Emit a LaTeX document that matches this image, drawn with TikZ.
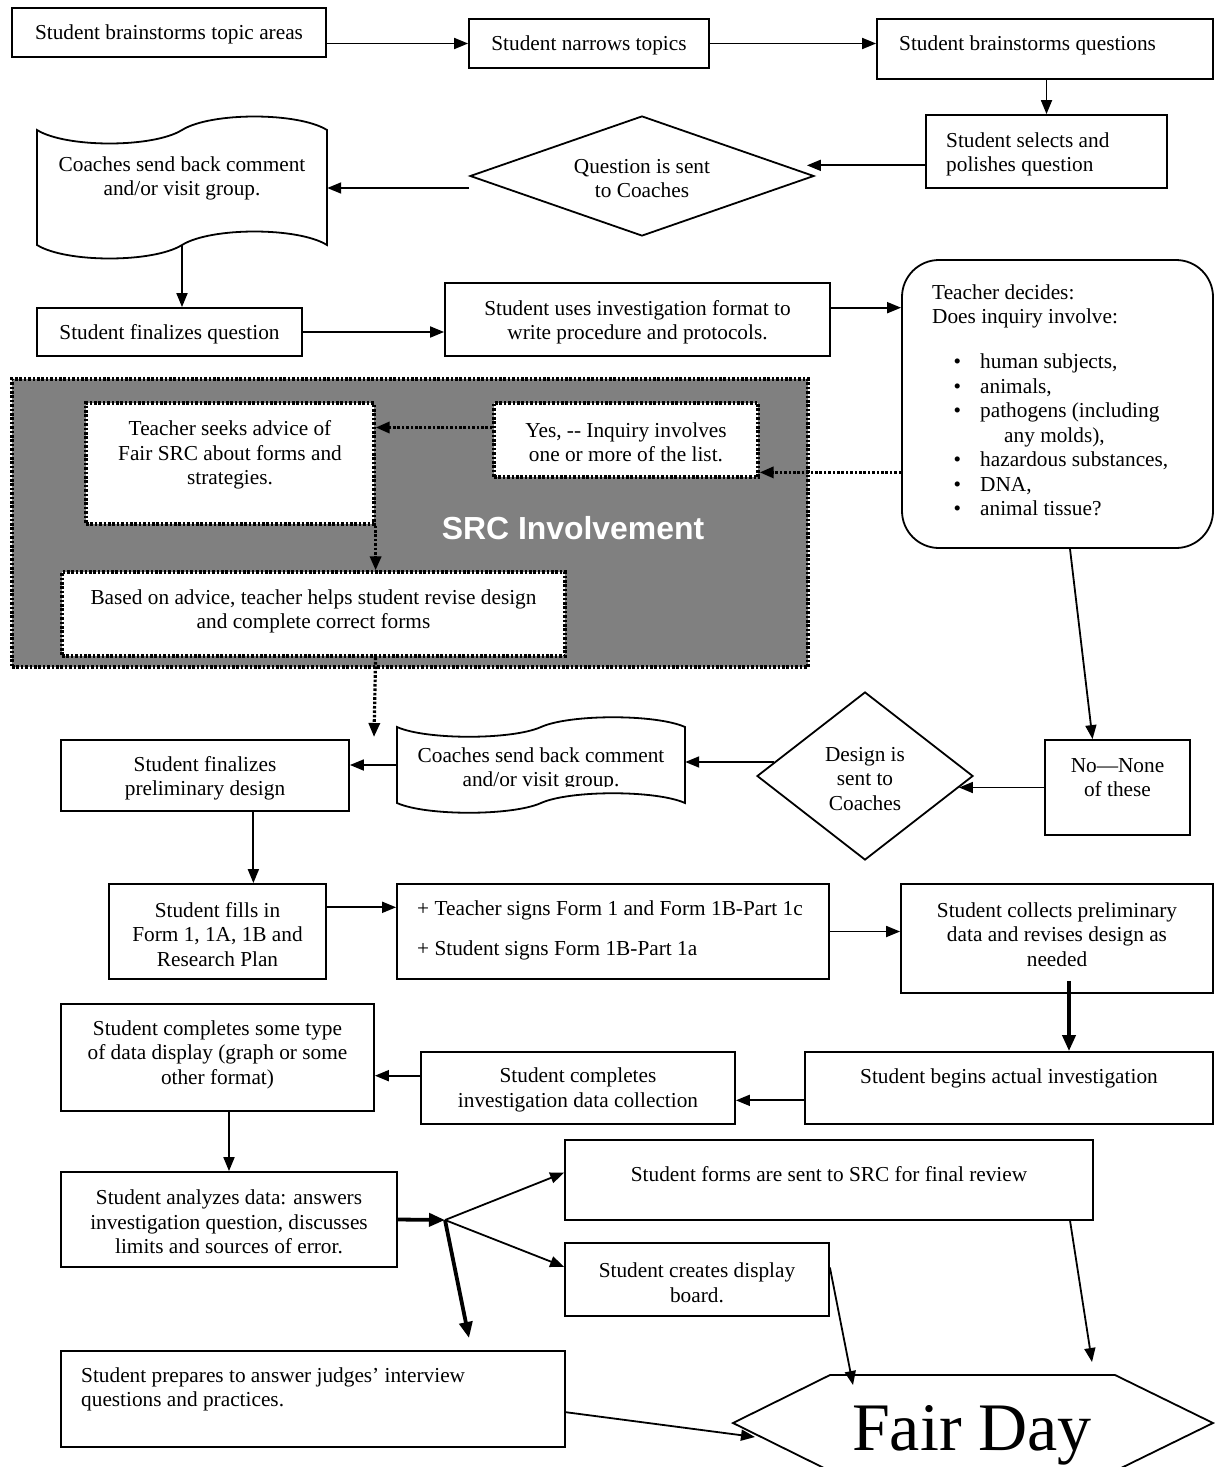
\documentclass[tikz,border=0pt]{standalone}
\usepackage{fontspec}
\setmainfont{Liberation Serif}
\newfontfamily\srcfont{Liberation Sans}
\usetikzlibrary{arrows.meta,shapes.geometric,calc}
\definecolor{srcgray}{HTML}{808080}
\newcommand\fs{\fontsize{21.3}{24.5}\selectfont}
\begin{document}
\begin{tikzpicture}[x=1pt,y=-1pt,
  box/.style={draw, line width=1.8pt, inner sep=0pt, rectangle},
  txt/.style={font=\fs, align=center, inner sep=0pt, yshift=-2pt},
  arr/.style={line width=1.8pt, -{Triangle[length=14pt,width=11pt]}},
  tarr/.style={line width=3.8pt, -{Triangle[length=16pt,width=13pt]}},
  dotln/.style={line width=3.2pt, dash pattern=on 2.6pt off 1.8pt},
  darr/.style={dotln, -{Triangle[length=14pt,width=11pt]}},
  dbox/.style={rectangle, fill=white, draw, dotln, inner sep=0pt},
  ghost/.style={rectangle, inner sep=0pt},
  dia/.style={diamond, draw, line width=1.8pt, inner sep=0pt},
]
\useasboundingbox (0,0) rectangle (1215,1467);
\clip (0,0) rectangle (1215,1467);

% ---------- SRC region ----------
\node[rectangle, fill=srcgray, draw=black, dotln, minimum width=796pt, minimum height=288pt, inner sep=0pt] (SRC) at (410,523) {};
\node[font=\srcfont\bfseries\fontsize{31.9}{38}\selectfont, text=white, inner sep=0pt] (SRCl) at (573,528) {SRC Involvement};
\node[dbox, minimum width=288pt, minimum height=121pt] (H) at (230,463.5) {};
\node[txt] (Ht) at (230,453) {Teacher seeks advice of\\Fair SRC about forms and\\strategies.};
\node[dbox, minimum width=264pt, minimum height=74pt] (I) at (626,440) {};
\node[txt] (It) at (626,440.5) {Yes, -{}- Inquiry involves\\one or more of the list.};
\node[dbox, minimum width=503pt, minimum height=84pt] (J) at (313.5,614) {};
\node[txt] (Jt) at (313.5,609.5) {Based on advice, teacher helps student revise design\\and complete correct forms};

% ---------- top rows ----------
\node[box, minimum width=314pt, minimum height=49pt] (A) at (169,32.5) {};
\node[txt] (At) at (169,32.5) {Student brainstorms topic areas};
\node[box, minimum width=240pt, minimum height=49pt] (B) at (589,43.5) {};
\node[txt] (Bt) at (589,43.5) {Student narrows topics};
\node[box, minimum width=336pt, minimum height=60pt] (C) at (1045,49) {};
\node[txt, anchor=west] (Ct) at (899,43) {Student brainstorms questions};
\node[box, minimum width=241pt, minimum height=73pt] (D) at (1046.5,151.5) {};
\node[txt, align=left, anchor=west] (Dt) at (946,152.5) {Student selects and\\polishes question};
\node[dia, minimum width=344pt, minimum height=120pt] (DQ) at (642,176) {};
\node[txt] (DQt) at (642,176.5) {Question is sent\\to Coaches};

% document shape 1
\node[ghost, minimum width=290pt, minimum height=144pt] (d1) at (182,188) {};
\draw[line width=1.8pt] (37,130) .. controls (66,148) and (153,148) .. (182,130)
  .. controls (211,112) and (298,112) .. (327,130) -- (327,245)
  .. controls (298,227) and (211,227) .. (182,245)
  .. controls (153,263) and (66,263) .. (37,245) -- cycle;
\node[txt] (d1t) at (182,176.5) {Coaches send back comment\\and/or visit group.};

\node[box, minimum width=265pt, minimum height=48pt] (E) at (169.5,332) {};
\node[txt] (Et) at (169.5,332) {Student finalizes question};
\node[box, minimum width=385pt, minimum height=73pt] (F) at (637.5,319.5) {};
\node[txt] (Ft) at (637.5,320.5) {Student uses investigation format to\\write procedure and protocols.};

% teacher decides
\node[box, rounded corners=37pt, minimum width=311pt, minimum height=288pt] (G) at (1057.5,404) {};
\node[txt, align=left, anchor=west] (Gt) at (932,304.5) {Teacher decides:\\Does inquiry involve:};
\node[txt, align=left, anchor=west] (Gl) at (953.3,433) {%
\makebox[26.7pt][l]{\textbullet}human subjects,\\
\makebox[26.7pt][l]{\textbullet}animals,\\
\makebox[26.7pt][l]{\textbullet}pathogens (including\\
\hspace*{50.7pt}any molds),\\
\makebox[26.7pt][l]{\textbullet}hazardous substances,\\
\makebox[26.7pt][l]{\textbullet}DNA,\\
\makebox[26.7pt][l]{\textbullet}animal tissue?};

% ---------- design row ----------
\node[box, minimum width=288pt, minimum height=71pt] (K) at (205,775.5) {};
\node[txt] (Kt) at (205,776.5) {Student finalizes\\preliminary design};
\node[ghost, minimum width=288pt, minimum height=95pt] (d2) at (541,765) {};
\draw[line width=1.8pt] (397,727) .. controls (426,740) and (512,740) .. (541,727)
  .. controls (570,714) and (656,714) .. (685,727) -- (685,803)
  .. controls (656,790) and (570,790) .. (541,803)
  .. controls (512,816) and (426,816) .. (397,803) -- cycle;
\begin{scope}
\clip (397,700) rectangle (685,786);
\node[txt] (d2t) at (541,767.5) {Coaches send back comment\\and/or visit group.};
\end{scope}
\node[dia, minimum width=216pt, minimum height=168pt] (DD) at (865,776) {};
\node[txt] (DDt) at (865,777) {Design is\\sent to\\Coaches};
\node[box, minimum width=145pt, minimum height=95pt] (N) at (1117.5,787.5) {};
\node[txt] (Nt) at (1117.5,775.5) {No—None\\of these};

% ---------- forms row ----------
\node[box, minimum width=217pt, minimum height=95pt] (O) at (217.5,931.5) {};
\node[txt] (Ot) at (217.5,932.5) {Student fills in\\Form 1, 1A, 1B and\\Research Plan};
\node[box, minimum width=432pt, minimum height=95pt] (P) at (613,931.5) {};
\node[txt, align=left, anchor=west] (Pt) at (417,928) {+ Teacher signs Form 1 and Form 1B-Part 1c\\[15.5pt]+ Student signs Form 1B-Part 1a};
\node[box, minimum width=312pt, minimum height=109pt] (Q) at (1057,938.5) {};
\node[txt] (Qt) at (1057,932.5) {Student collects preliminary\\data and revises design as\\needed};

% ---------- investigation row ----------
\node[box, minimum width=408pt, minimum height=72pt] (R) at (1009,1088) {};
\node[txt] (Rt) at (1009,1076) {Student begins actual investigation};
\node[box, minimum width=314pt, minimum height=72pt] (S) at (578,1088) {};
\node[txt] (St) at (578,1088) {Student completes\\investigation data collection};
\node[box, minimum width=313pt, minimum height=107pt] (T) at (217.5,1057.5) {};
\node[txt] (Tt) at (217.5,1052.5) {Student completes some type\\of data display (graph or some\\other format)};

% ---------- analysis ----------
\node[box, minimum width=336pt, minimum height=95pt] (U) at (229,1219.5) {};
\node[txt] (Ut) at (229,1220) {Student analyzes data: answers\\investigation question, discusses\\limits and sources of error.};
\node[box, minimum width=528pt, minimum height=80pt] (V) at (829,1180) {};
\node[txt] (Vt) at (829,1172) {Student forms are sent to SRC for final review};
\node[box, minimum width=264pt, minimum height=73pt] (W) at (697,1279.5) {};
\node[txt] (Wt) at (697,1280.5) {Student creates display\\board.};
\node[box, minimum width=504pt, minimum height=96pt] (X) at (313,1399) {};
\node[txt, align=left, anchor=west] (Xt) at (81,1387.5) {Student prepares to answer judges’ interview\\questions and practices.};

% Fair Day
\draw[line width=1.8pt] (733,1423) -- (830,1375) -- (1115,1375) -- (1213,1423) -- (1115,1471) -- (830,1471) -- cycle;
\node[font=\fontsize{68}{80}\selectfont, inner sep=0pt, anchor=base] (FD) at (972,1450) {Fair Day};

% ---------- coordinates ----------
\coordinate (dout) at ($(D.north west)!0.685!(D.south west)$);
\coordinate (dqtip) at ($(DQ.east)+(-8,0)$);
\coordinate (dql) at ($(DQ.west)+(0,12)$);
\coordinate (d1b) at ($(d1.south)+(0,-15)$);
\coordinate (fo) at ($(F.north east)!0.342!(F.south east)$);
\coordinate (gi) at ($(G.north west)!0.736!(G.south west)$);
\coordinate (ih) at ($(I.north west)!0.338!(I.south west)$);
\coordinate (jk) at (374,737);
\coordinate (ddl) at ($(DD.west)!0.165!(DD.north)$);
\coordinate (ddr) at ($(DD.east)!0.137!(DD.south)$);
\coordinate (gs) at ($(G.south)+(12.5,0)$);
\coordinate (nn) at ($(N.north west)!0.33!(N.north east)$);
\coordinate (ko) at ($(O.north west)!0.664!(O.north east)$);
\coordinate (op) at ($(O.north east)!0.25!(O.south east)$);
\coordinate (qr) at ($(Q.south)+(12,-13)$);
\coordinate (rs) at ($(R.north west)!0.667!(R.south west)$);
\coordinate (st) at ($(S.north west)!0.333!(S.south west)$);
\coordinate (hub) at (445,1220);
\coordinate (vin) at ($(V.north west)!0.41!(V.south west)$);
\coordinate (win) at ($(W.north west)!0.33!(W.south west)$);
\coordinate (xd) at (469,1338);
\coordinate (xo) at ($(X.north east)!0.635!(X.south east)$);
\coordinate (fdx) at (755,1437);
\coordinate (wo) at ($(W.north east)!0.34!(W.south east)$);
\coordinate (fdw) at (853,1385);
\coordinate (vo) at ($(V.south west)!0.955!(V.south east)$);
\coordinate (fdv) at (1092,1362);

% ---------- connectors ----------
\draw[arr] (B.west -| A.east) -- (B.west);
\draw[arr] (B.east) -- (B.east -| C.west);
\draw[arr] (C.south -| D.north) -- (D.north);
\draw[arr] (dout) -- (dout -| dqtip);
\draw[arr] (dql) -- (dql -| d1.east);
\draw[arr] (d1b) -- (d1b |- E.north);
\draw[arr] (E.east) -- (E.east -| F.west);
\draw[arr] (fo) -- (fo -| G.west);
\draw[darr] (gi) -- (gi -| I.east);
\draw[darr] (ih) -- (ih -| H.east);
\draw[darr] (H.south east) -- (H.south east |- J.north);
\draw[darr] (H.east |- J.south) -- (jk);
\draw[arr] (gs) -- (nn);
\draw[arr] (N.west) -- (N.west -| ddr);
\draw[arr] (ddl) -- (ddl -| d2.east);
\draw[arr] (d2.west) -- (d2.west -| K.east);
\draw[arr] (ko |- K.south) -- (ko);
\draw[arr] (op) -- (op -| P.west);
\draw[arr] (P.east) -- (P.east -| Q.west);
\draw[tarr] (qr) -- (qr |- R.north);
\draw[arr] (rs) -- (rs -| S.east);
\draw[arr] (st) -- (st -| T.east);
\draw[arr] (U.north |- T.south) -- (U.north);
\draw[tarr] (U.east) -- (hub);
\draw[arr] (hub) -- (vin);
\draw[arr] (hub) -- (win);
\draw[tarr] (hub) -- (xd);
\draw[arr] (xo) -- (fdx);
\draw[arr] (wo) -- (fdw);
\draw[arr] (vo) -- (fdv);
\end{tikzpicture}
\end{document}
